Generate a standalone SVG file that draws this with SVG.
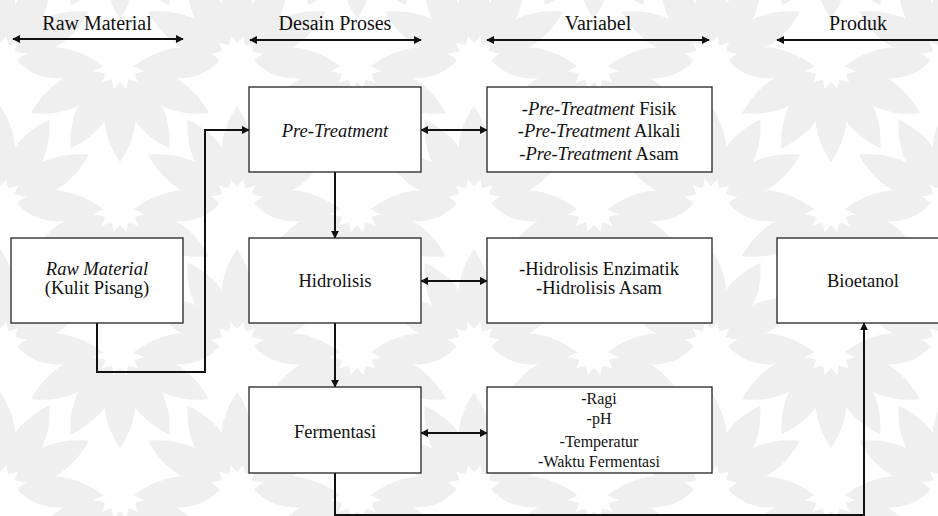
<svg xmlns="http://www.w3.org/2000/svg" xmlns:xlink="http://www.w3.org/1999/xlink" width="938" height="516" viewBox="0 0 938 516">
<style>
  .t { font-family: "Liberation Serif", "Times New Roman", Times, serif; fill: #111; text-anchor: middle; }
  .h { font-size: 20px; }
  .b { font-size: 18.5px; }
  .s { font-size: 16px; }
  .i { font-style: italic; }
  .box { fill: #ffffff; stroke: #222; stroke-width: 1.3; }
  .ln { fill: none; stroke: #111; stroke-width: 2; }
  .leaf { fill: #efefef; }
</style>
<defs>
  <marker id="ah" viewBox="0 0 10 10" refX="9" refY="5" markerWidth="8" markerHeight="8" markerUnits="userSpaceOnUse" orient="auto-start-reverse">
    <path d="M0,0 L10,5 L0,10 z" fill="#111"/>
  </marker>
  <path id="leaf" class="leaf" d="M0,16 C22,36 19,68 0,96 C-19,68 -22,36 0,16 Z"/>
  <g id="fanD">
    <use xlink:href="#leaf"/>
    <use xlink:href="#leaf" transform="rotate(31)"/>
    <use xlink:href="#leaf" transform="rotate(-31)"/>
    <use xlink:href="#leaf" transform="rotate(62) scale(1,1.05)"/>
    <use xlink:href="#leaf" transform="rotate(-62) scale(1,1.05)"/>
    <use xlink:href="#leaf" transform="rotate(94) scale(1,1.08)"/>
    <use xlink:href="#leaf" transform="rotate(-94) scale(1,1.08)"/>
  </g>
  <pattern id="bg" patternUnits="userSpaceOnUse" x="0" y="66" width="237" height="143">
    <use xlink:href="#fanD" transform="translate(120,0)"/>
    <use xlink:href="#fanD" transform="translate(0,136) rotate(180)"/>
    <use xlink:href="#fanD" transform="translate(237,136) rotate(180)"/>
    <use xlink:href="#fanD" transform="translate(0,-7) rotate(180)"/>
    <use xlink:href="#fanD" transform="translate(237,-7) rotate(180)"/>
    <use xlink:href="#fanD" transform="translate(120,-143)"/>
  </pattern>
</defs>

<rect x="0" y="0" width="938" height="516" fill="#ffffff"/>
<rect x="0" y="0" width="938" height="516" fill="url(#bg)"/>

<g id="headers">
  <text class="t h" x="97" y="30">Raw Material</text>
  <line class="ln" x1="13" y1="39" x2="183" y2="39" marker-start="url(#ah)" marker-end="url(#ah)"/>
  <text class="t h" x="335" y="30">Desain Proses</text>
  <line class="ln" x1="250" y1="40" x2="421" y2="40" marker-start="url(#ah)" marker-end="url(#ah)"/>
  <text class="t h" x="598" y="30">Variabel</text>
  <line class="ln" x1="487" y1="40" x2="709" y2="40" marker-start="url(#ah)" marker-end="url(#ah)"/>
  <text class="t h" x="858" y="30">Produk</text>
  <line class="ln" x1="777" y1="40" x2="938" y2="40" marker-start="url(#ah)"/>
</g>

<g id="connectors">
  <path class="ln" d="M97,323 V372 H205 V130 H249" marker-end="url(#ah)"/>
  <line class="ln" x1="421" y1="130" x2="487" y2="130" marker-start="url(#ah)" marker-end="url(#ah)"/>
  <line class="ln" x1="335" y1="172" x2="335" y2="238" marker-end="url(#ah)"/>
  <line class="ln" x1="421" y1="281" x2="487" y2="281" marker-start="url(#ah)" marker-end="url(#ah)"/>
  <line class="ln" x1="335" y1="323" x2="335" y2="387" marker-end="url(#ah)"/>
  <line class="ln" x1="421" y1="433" x2="487" y2="433" marker-start="url(#ah)" marker-end="url(#ah)"/>
  <path class="ln" d="M335,473 V515 H864 V323" marker-end="url(#ah)"/>
</g>

<g id="pretreatment">
  <rect class="box" x="249" y="87" width="172" height="85"/>
  <text class="t b i" x="335" y="137">Pre-Treatment</text>
</g>
<g id="var-pretreatment">
  <rect class="box" x="487" y="87" width="225" height="85"/>
  <text class="t b" x="599" y="115"><tspan class="i">-Pre-Treatment</tspan> Fisik</text>
  <text class="t b" x="599" y="137"><tspan class="i">-Pre-Treatment</tspan> Alkali</text>
  <text class="t b" x="599" y="160"><tspan class="i">-Pre-Treatment</tspan> Asam</text>
</g>
<g id="rawmaterial">
  <rect class="box" x="11" y="238" width="172" height="85"/>
  <text class="t b i" x="97" y="275">Raw Material</text>
  <text class="t b" x="97" y="294">(Kulit Pisang)</text>
</g>
<g id="hidrolisis">
  <rect class="box" x="249" y="238" width="172" height="85"/>
  <text class="t b" x="335" y="287">Hidrolisis</text>
</g>
<g id="var-hidrolisis">
  <rect class="box" x="487" y="238" width="225" height="85"/>
  <text class="t b" x="599" y="275">-Hidrolisis Enzimatik</text>
  <text class="t b" x="599" y="294">-Hidrolisis Asam</text>
</g>
<g id="bioetanol">
  <rect class="box" x="777" y="238" width="170" height="85"/>
  <text class="t b" x="863" y="287">Bioetanol</text>
</g>
<g id="fermentasi">
  <rect class="box" x="249" y="387" width="172" height="86"/>
  <text class="t b" x="335" y="438">Fermentasi</text>
</g>
<g id="var-fermentasi">
  <rect class="box" x="487" y="387" width="225" height="86"/>
  <text class="t s" x="599" y="404">-Ragi</text>
  <text class="t s" x="599" y="424">-pH</text>
  <text class="t s" x="599" y="447">-Temperatur</text>
  <text class="t s" x="599" y="467">-Waktu Fermentasi</text>
</g>
</svg>
